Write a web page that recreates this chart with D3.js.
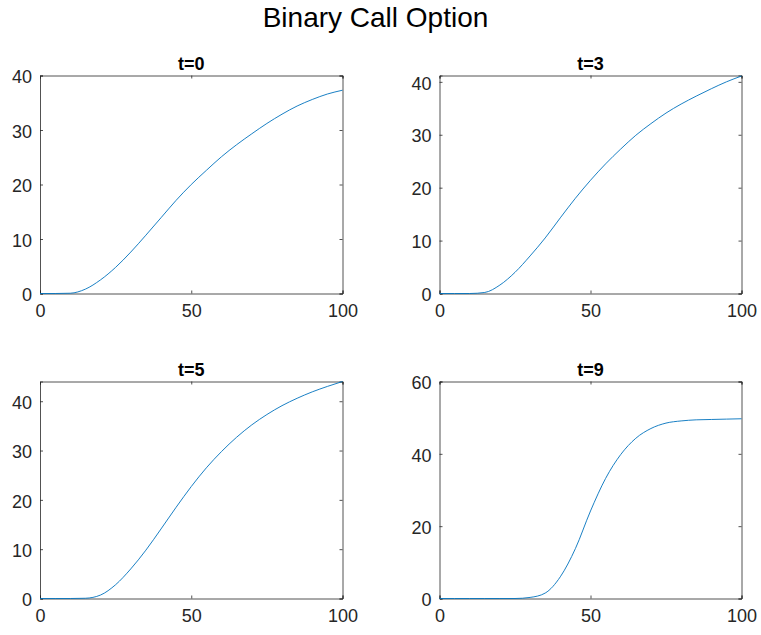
<!DOCTYPE html>
<html>
<head>
<meta charset="utf-8">
<script src="https://cdn.jsdelivr.net/npm/d3@7"></script>
<style>
  html, body { margin: 0; padding: 0; background: #ffffff; }
  svg { display: block; }
  text { font-family: Arial, "Liberation Sans", Helvetica, sans-serif; }
</style>
</head>
<body>
<svg id="chart" width="761" height="635"></svg>
<script>
// Underlying asset price grid
const prices = [0, 5, 10, 15, 20, 25, 30, 35, 40, 45, 50, 55, 60, 65, 70, 75, 80, 85, 90, 95, 100];

// Option value at each time step
const valueT0 = [0, 0, 0.05, 0.8, 2.5, 4.8, 7.6, 10.7, 13.9, 17.1, 20.0, 22.6, 25.1, 27.3, 29.3, 31.2, 32.9, 34.4, 35.6, 36.6, 37.3];
const valueT3 = [0, 0, 0, 0.2, 1.6, 4.0, 7.1, 10.5, 14.3, 18.0, 21.4, 24.5, 27.3, 29.9, 32.1, 34.1, 35.8, 37.3, 38.7, 40.0, 41.1];
const valueT5 = [0, 0, 0, 0.05, 0.7, 2.8, 6.0, 9.8, 14.1, 18.5, 22.7, 26.5, 29.8, 32.7, 35.2, 37.3, 39.1, 40.6, 41.9, 43.0, 44.0];
const valueT9 = [0, 0, 0, 0, 0, 0, 0.3, 1.5, 6.0, 13.8, 24.2, 33.2, 39.8, 44.3, 47.0, 48.5, 49.1, 49.4, 49.5, 49.6, 49.7];

const panelTitles = ["t=0", "t=3", "t=5", "t=9"];
const yMax = [40, 41.2, 44, 60];
const yTicks = [[0, 10, 20, 30, 40], [0, 10, 20, 30, 40], [0, 10, 20, 30, 40], [0, 20, 40, 60]];
const xTicks = [0, 50, 100];
const figureTitle = "Binary Call Option";

const series = [valueT0, valueT3, valueT5, valueT9];

// Subplot boxes on the 2x2 grid
const boxes = [
  { x0: 40,    y0: 75.5,  x1: 342.5, y1: 293.5 },
  { x0: 439.5, y0: 75.5,  x1: 741.5, y1: 293.5 },
  { x0: 40,    y0: 381.5, x1: 342.5, y1: 598.5 },
  { x0: 439.5, y0: 381.5, x1: 741.5, y1: 598.5 }
];

const svg = d3.select("#chart");
const axisColor = "#262626";
const tickLen = 3;

svg.append("text")
  .attr("x", 375.5)
  .attr("y", 27)
  .attr("text-anchor", "middle")
  .attr("font-size", 28)
  .attr("fill", "#000")
  .text(figureTitle);

series.forEach((vals, i) => {
  const b = boxes[i];
  const x = d3.scaleLinear().domain([0, 100]).range([b.x0, b.x1]);
  const y = d3.scaleLinear().domain([0, yMax[i]]).range([b.y1, b.y0]);
  const g = svg.append("g");

  // bottom axis with inward ticks
  const bottom = g.append("g")
    .attr("transform", `translate(0,${b.y1})`)
    .call(d3.axisBottom(x).tickValues(xTicks).tickSize(-tickLen).tickPadding(10).tickFormat(d3.format("d")));
  // top mirror axis
  const top = g.append("g")
    .attr("transform", `translate(0,${b.y0})`)
    .call(d3.axisTop(x).tickValues(xTicks).tickSize(-tickLen).tickFormat(""));
  // left axis
  const left = g.append("g")
    .attr("transform", `translate(${b.x0},0)`)
    .call(d3.axisLeft(y).tickValues(yTicks[i]).tickSize(-tickLen).tickPadding(8).tickFormat(d3.format("d")));
  // right mirror axis
  const right = g.append("g")
    .attr("transform", `translate(${b.x1},0)`)
    .call(d3.axisRight(y).tickValues(yTicks[i]).tickSize(-tickLen).tickFormat(""));

  [bottom, top, left, right].forEach(a => {
    a.select(".domain").attr("stroke", axisColor).attr("stroke-width", 0.8);
    a.selectAll(".tick line").attr("stroke", axisColor).attr("stroke-width", 0.8);
    a.selectAll(".tick text").attr("fill", axisColor).attr("font-size", 18);
  });
  bottom.selectAll(".tick text").attr("dy", "0.75em");
  left.selectAll(".tick text").attr("dy", "0.4em");

  // value curve
  const line = d3.line()
    .x((d, k) => x(prices[k]))
    .y(d => y(d))
    .curve(d3.curveMonotoneX);
  g.append("path")
    .datum(vals)
    .attr("fill", "none")
    .attr("stroke", "#0072BD")
    .attr("stroke-width", 0.9)
    .attr("d", line);

  // subplot title
  g.append("text")
    .attr("x", (b.x0 + b.x1) / 2)
    .attr("y", b.y0 - 6)
    .attr("text-anchor", "middle")
    .attr("font-size", 18)
    .attr("font-weight", "bold")
    .attr("fill", "#000")
    .text(panelTitles[i]);
});
</script>
</body>
</html>
